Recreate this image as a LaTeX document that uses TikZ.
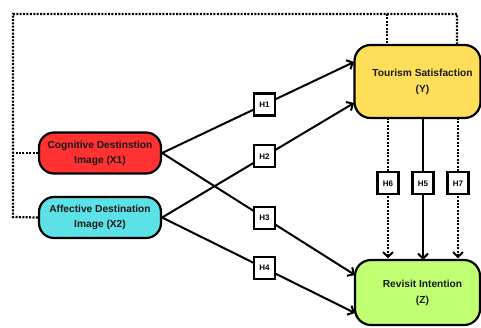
\documentclass[tikz,border=0pt]{standalone}
\usepackage{fontspec}
\setmainfont{Liberation Sans}
\usetikzlibrary{arrows.meta}
\definecolor{cred}{HTML}{FF3131}
\definecolor{ccyan}{HTML}{5CE1E6}
\definecolor{cyel}{HTML}{FFDE59}
\definecolor{cgreen}{HTML}{C1FF72}
\begin{document}
\begin{tikzpicture}[x=1pt,y=-1pt,
  bigbox/.style={draw=black, line width=2.2pt, rounded corners=16pt, align=center,
    font=\fontsize{10.2}{16}\selectfont\bfseries, text=black!90, inner sep=0pt},
  varbox/.style={draw=black, line width=2.2pt, rounded corners=15pt, align=center,
    font=\fontsize{10.2}{15}\selectfont\bfseries, text=black!90, inner sep=0pt,
    minimum width=122pt, minimum height=41pt},
  hbox/.style={draw=black, solid, fill=white, line width=2.2pt, inner sep=0pt,
    minimum width=21pt, minimum height=22pt, font=\fontsize{8}{8}\selectfont\bfseries},
  link/.style={line width=2pt, -{Straight Barb[length=5pt,width=10pt,line width=2pt]}},
  dots/.style={line width=2.2pt, dash pattern=on 2pt off 1.4pt},
  dotarrow/.style={dots, -{Straight Barb[length=5pt,width=10pt,line width=2pt,sep]}}
]
\useasboundingbox (0,0) rectangle (481,327);
\begin{scope}
\clip (0,0) rectangle (481,327);
% coordinates
\coordinate (L1) at (13,153);
\coordinate (L2) at (13,217);
\coordinate (TL) at (13,14);
\coordinate (TA) at (387,14);
\coordinate (TB) at (457,14);
\coordinate (TAd) at (387,45);
\coordinate (TBd) at (457,45);
\coordinate (ts1) at (354,62);
\coordinate (ts2) at (354,103);
\coordinate (ri1) at (355,275);
\coordinate (ri2) at (355,313);
\coordinate (u6) at (388,118);
\coordinate (u5) at (423,118);
\coordinate (u7) at (458,118);
\coordinate (d6) at (388,260);
\coordinate (d5) at (423,260);
\coordinate (d7) at (458,260);

\node[varbox, fill=cred] (cog) at (100,153) {Cognitive Destinstion\\Image (X1)};
\node[varbox, fill=ccyan] (aff) at (100,217.5) {Affective Destination\\Image (X2)};

% dotted connections
\draw[dots] (cog.west) -- (L1);
\draw[dots] (aff.west) -- (L2) -- (TL) -- (TB) -- (TBd);
\draw[dots] (TA) -- (TAd);

% paths
\draw[link] (cog.east) -- node[hbox, pos=0.534] (h1) {H1} (ts1);
\draw[link] (aff.east) -- node[hbox, pos=0.534] (h2) {H2} (ts2);
\draw[link] (cog.east) -- node[hbox, pos=0.531] (h3) {H3} (ri1);
\draw[link] (aff.east) -- node[hbox, pos=0.531] (h4) {H4} (ri2);

\draw[dotarrow] (u6) -- node[hbox, pos=0.46] (h6) {H6} (d6);
\draw[link] (u5) -- node[hbox, pos=0.46] (h5) {H5} (d5);
\draw[dotarrow] (u7) -- node[hbox, pos=0.46] (h7) {H7} (d7);

\node[bigbox, fill=cyel, minimum width=126pt, minimum height=73pt] (ts) at (417.5,81.5) {\hspace*{10pt}Tourism Satisfaction\\\hspace*{10pt}(Y)};
\node[bigbox, fill=cgreen, minimum width=125pt, minimum height=65pt] (ri) at (417.5,292.5) {\hspace*{10pt}Revisit Intention\\\hspace*{10pt}(Z)};
\end{scope}
\end{tikzpicture}
\end{document}
